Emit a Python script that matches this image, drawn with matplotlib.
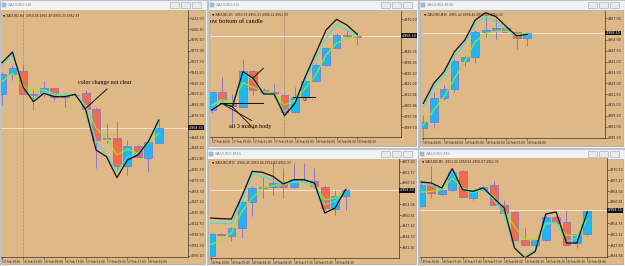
import matplotlib
matplotlib.use("Agg")
import matplotlib.pyplot as plt
from matplotlib.patches import Rectangle
import numpy as np

# ---------------- data ----------------
last_price = 4958.30

# XAUUSD,H4
h4_open = [5009, 5039, 5043.5, 5009, 5010, 5018.5, 5004, 5007, 5010, 4986.5, 4941, 4942.5, 4901.5, 4931.5, 4912.5, 4936]
h4_high = [5042.5, 5052.5, 5052, 5015, 5028.5, 5018.5, 5011, 5011, 5015, 4990, 4964, 4968.5, 4940, 4932.5, 4940, 4970]
h4_low = [4992, 5030, 5008.5, 4985, 5005, 5000, 4989, 5005, 4985, 4897.5, 4935, 4895, 4887.5, 4914, 4894, 4935]
h4_close = [5039, 5048.5, 5008.5, 5007.5, 5018.5, 5004, 5007.5, 5008, 4986, 4940, 4943.5, 4901.5, 4931.5, 4915, 4936.5, 4958.5]
h4_ma_black = [5056, 5072, 5020, 4997.5, 5010, 5005, 5005, 5008.5, 4986, 4925, 4915, 4883.5, 4910, 4917.5, 4937.5, 4970]
h4_ma_cyan = [5052.5, 5067.5, 5022.5, 5000, 5012.5, 5007.5, 5006.5, 5008.5, 4990, 4937.5, 4917.5, 4892.5, 4915, 4920, 4937.5, 4965]
h4_ma_lime = [5027.5, 5040, 5019, 5015, 5015, 5009, 5007.5, 5008.5, 4992.5, 4957.5, 4942.5, 4917.5, 4926.5, 4920, 4935, 4950]
h4_times = ["13 Feb 2026", "16 Feb 01:00", "16 Feb 09:00", "16 Feb 17:00",
            "17 Feb 01:00", "17 Feb 09:00", "17 Feb 17:00", "18 Feb 01:00"]

# XAUUSD,H1
h1_open = [4902.5, 4915.75, 4908, 4905, 4931.75, 4917.5, 4915.75, 4913.75, 4900.75, 4912.5, 4924.25, 4936.25, 4948.75, 4959, 4958]
h1_high = [4916.25, 4927, 4914.5, 4940.5, 4932.5, 4918.75, 4922, 4913.75, 4920, 4927, 4937.5, 4949.5, 4960, 4962.5, 4961.25]
h1_low = [4900, 4910, 4893, 4905, 4913.75, 4915, 4912.5, 4900, 4900, 4910, 4923.75, 4935.5, 4948, 4957.5, 4951.25]
h1_close = [4915.75, 4910, 4905.5, 4931.75, 4917.5, 4915.75, 4915, 4901.25, 4912.5, 4924.25, 4936.25, 4948.75, 4958.75, 4958.25, 4957.5]
h1_ma_black = [4902.5, 4907.5, 4905, 4931.25, 4926.25, 4914.5, 4914.5, 4898.25, 4907.5, 4927.5, 4945, 4962.5, 4970.5, 4966.25, 4959.25]
h1_ma_cyan = [4905.5, 4908.75, 4906.25, 4931.25, 4925, 4914.5, 4914.25, 4901.25, 4910, 4925, 4941.25, 4956.25, 4966.75, 4962.5, 4958.75]
h1_ma_lime = [4906.25, 4910.5, 4908, 4923, 4919.5, 4916.25, 4915, 4906.25, 4910, 4918.75, 4928.75, 4943.75, 4952.5, 4956.25, 4957.5]
h1_times = ["17 Feb 2026", "17 Feb 19:00", "17 Feb 21:00", "17 Feb 23:00",
            "18 Feb 02:00", "18 Feb 04:00", "18 Feb 06:00", "18 Feb 08:00"]

# XAUUSD,M30
m30_open = [4901.4, 4905, 4919, 4924.4, 4941.6, 4943.6, 4958.6, 4960, 4961, 4959, 4955.4]
m30_high = [4909, 4923, 4927, 4942.4, 4945, 4960, 4968, 4966.6, 4962, 4959.4, 4958.4]
m30_low = [4896, 4901, 4918, 4923, 4938.4, 4940.4, 4956, 4954.4, 4958, 4948.6, 4950.6]
m30_close = [4905, 4919, 4924.4, 4941.4, 4943.6, 4959, 4960, 4961.4, 4959, 4955.4, 4958]
m30_ma_black = [4916, 4928, 4935, 4947, 4954, 4966, 4970.4, 4968, 4962, 4956.4, 4957.4]
m30_ma_cyan = [4914, 4925.6, 4932.4, 4944, 4952, 4963.6, 4968, 4965, 4960.4, 4956, 4958]
m30_ma_lime = [4903, 4912, 4920, 4931, 4941, 4953, 4958, 4959.4, 4959, 4957.6, 4958]
m30_times = ["18 Feb 2026", "18 Feb 04:00", "18 Feb 05:00", "18 Feb 06:00", "18 Feb 07:00", "18 Feb 08:00"]

# XAUUSD,M15
m15_open = [4938.5, 4945.2, 4944.5, 4947, 4954.7, 4959, 4959.3, 4960.2, 4959.2, 4961.3, 4961, 4959.2, 4952.8, 4956.5]
m15_high = [4945.5, 4945.5, 4947.2, 4955.5, 4959.5, 4962.5, 4967, 4965, 4966.5, 4966.5, 4965, 4960, 4958.5, 4959]
m15_low = [4938, 4944.5, 4943, 4944, 4950.5, 4956, 4957, 4956, 4959, 4960.5, 4959, 4952.5, 4951, 4952.5]
m15_close = [4945.2, 4944.8, 4947, 4954.7, 4959, 4959.3, 4960.4, 4959.3, 4961.3, 4961, 4959.5, 4953, 4956.5, 4958.5]
m15_ma_black = [4950, 4949.8, 4949.7, 4956.5, 4964, 4963.7, 4962.5, 4960.2, 4961.5, 4961.5, 4960.5, 4951.5, 4953, 4958.5]
m15_ma_cyan = [4948.5, 4948.4, 4948.2, 4955, 4963, 4962.5, 4961.3, 4960, 4961, 4961, 4960, 4954, 4955, 4958]
m15_ma_lime = [4942, 4943.5, 4945.5, 4952, 4956, 4959, 4959.7, 4960, 4960.8, 4960.8, 4959.5, 4955.5, 4956, 4958]
m15_times = ["18 Feb 2026", "18 Feb 05:45", "18 Feb 06:15", "18 Feb 06:45",
             "18 Feb 07:15", "18 Feb 07:45", "18 Feb 08:15"]

# XAUUSD,M5
m5_open = [4959.5, 4966, 4963.3, 4964.5, 4970, 4962, 4964.3, 4965.8, 4959.8, 4957.7, 4949.5, 4948, 4949.3, 4956.2, 4954.8, 4948.5, 4951.3]
m5_high = [4967.5, 4971.5, 4966, 4971, 4970.5, 4964.5, 4965.5, 4967, 4961.5, 4958, 4953, 4950, 4957, 4956.5, 4958.5, 4951.5, 4958.5]
m5_low = [4959.2, 4962, 4963, 4964, 4962.2, 4961.5, 4964, 4960, 4957, 4949.2, 4947.8, 4947, 4949, 4954.5, 4947.8, 4947, 4950.5]
m5_close = [4966, 4963.5, 4964.5, 4969.7, 4962.3, 4964, 4965.2, 4960, 4957.5, 4949.5, 4948, 4949.5, 4956.2, 4954.5, 4948, 4951.3, 4958.2]
m5_ma_black = [4966.8, 4966.5, 4965, 4970.8, 4964.5, 4964, 4965, 4962, 4959, 4947, 4944, 4946, 4957.2, 4957.8, 4948.5, 4948.5, 4957.8]
m5_ma_cyan = [4966.7, 4965.8, 4964.5, 4970, 4964.5, 4963.5, 4964.8, 4961.5, 4957, 4947, 4944.2, 4946.5, 4954.5, 4954.5, 4948.8, 4950, 4958]
m5_ma_lime = [4963.8, 4964, 4964.5, 4968, 4965, 4964, 4964.5, 4962.5, 4958.5, 4953.5, 4949.5, 4949.5, 4954.2, 4954.5, 4950.8, 4950.8, 4955.5]
m5_times = ["18 Feb 2026", "18 Feb 07:30", "18 Feb 07:40", "18 Feb 07:50", "18 Feb 08:00",
            "18 Feb 08:10", "18 Feb 08:20", "18 Feb 08:30", "18 Feb 08:40"]

# ---------------- style ----------------
TAN = '#DFB888'
BULL = '#1DB7F2'
BEAR = '#F4694D'
WICK = '#7C6FD6'
W, H = 625, 266

fig = plt.figure(figsize=(6.25, 2.66), dpi=100)
fig.patch.set_facecolor('#D3D6DA')


def frac(x0, y0, x1, y1):
    # pixel box, top-left origin -> figure fraction
    return [x0 / W, 1 - y1 / H, (x1 - x0) / W, (y1 - y0) / H]


def fig_rect(x0, y0, x1, y1, z=-2, **kw):
    l, b, w, h = frac(x0, y0, x1, y1)
    fig.add_artist(Rectangle((l, b), w, h, transform=fig.transFigure, zorder=z, **kw))


def window(x0, y0, x1, y1, title):
    fig_rect(x0, y0, x1, y1, fc='#F1F2F4', ec='#AEB4BC', lw=0.5)
    fig_rect(x0 + 1, y0 + 10, x1 - 2, y1 - 2, z=-1, fc=TAN, ec='#9A9A9A', lw=0.4)
    fig_rect(x0 + 2, y0 + 2.5, x0 + 6, y0 + 6.5, fc='#9CC3E6', ec='#6E93B8', lw=0.3)
    fig.text((x0 + 8) / W, 1 - (y0 + 5) / H, title, fontsize=3, color='#8A9099', va='center')
    for k in range(3):
        bx = x1 - 37 + k * 11
        fig_rect(bx, y0 + 2, bx + 9, y0 + 8, fc='#E9EBEE', ec='#9DA3AA', lw=0.4)


def chart(box, o, hi, lo, c, mas, xlim, ylim, yticks, times, header, seps=()):
    ax = fig.add_axes(frac(*box))
    ax.set_facecolor(TAN)
    for i in range(len(o)):
        ax.vlines(i, lo[i], hi[i], color=WICK, lw=0.6, zorder=2)
        b0, b1 = min(o[i], c[i]), max(o[i], c[i])
        ax.add_patch(Rectangle((i - 0.38, b0), 0.76, b1 - b0,
                               fc=BULL if c[i] >= o[i] else BEAR, ec=WICK, lw=0.5, zorder=3))
    x = np.arange(len(o))
    ax.plot(x, mas[2], color='#9BE22C', lw=0.9, zorder=4)
    ax.plot(x, mas[1], color='#3FE3DA', lw=0.9, zorder=5)
    ax.plot(x, mas[0], color='#111111', lw=0.9, zorder=6)
    ax.axhline(last_price, color='#F3E6D4', lw=0.7, zorder=1)
    for s in seps:
        ax.axvline(s, color='#8A7A66', lw=0.5, ls=(0, (1, 1)), zorder=1)
    ax.set_xlim(*xlim)
    ax.set_ylim(*ylim)
    ax.yaxis.tick_right()
    # the price box hides the label under it, as in the terminal
    step = abs(yticks[1] - yticks[0])
    yticks = [v for v in yticks if abs(v - last_price) > 0.6 * step]
    ax.set_yticks(yticks)
    ax.set_yticklabels([f"{v:.2f}" for v in yticks])
    ax.set_xticks(np.arange(0, 2 * len(times), 2))
    ax.set_xticklabels(times)
    for t in ax.get_xticklabels():
        t.set_ha('left')
    ax.tick_params(axis='y', labelsize=2.3, length=1.2, width=0.4, pad=1, colors='#222222')
    ax.tick_params(axis='x', labelsize=2.1, length=1.2, width=0.4, pad=1, colors='#222222')
    for side in ('top', 'left'):
        ax.spines[side].set_visible(False)
    for side in ('right', 'bottom'):
        ax.spines[side].set_linewidth(0.5)
        ax.spines[side].set_color('#333333')
    ax.text(0.01, 0.985, header, transform=ax.transAxes, fontsize=2.2, va='top', color='#222222')
    ax.text(1.0, last_price, f" {last_price:.2f} ", transform=ax.get_yaxis_transform(),
            fontsize=2.3, color='white', va='center', ha='left', clip_on=False,
            bbox=dict(boxstyle='square,pad=0.1', fc='#111111', ec='none'))
    return ax


window(0, 0, 207, 266, "XAUUSD,H4")
window(208, 0, 418, 148, "XAUUSD,H1")
window(419, 0, 625, 148, "XAUUSD,M30")
window(207, 149, 418, 266, "XAUUSD,M15")
window(418, 149, 625, 266, "XAUUSD,M5")

serif = 'Liberation Serif'

ax1 = chart((1, 10, 188, 257), h4_open, h4_high, h4_low, h4_close,
            (h4_ma_black, h4_ma_cyan, h4_ma_lime), (-0.1, 17.8), (4764.5, 5135),
            np.arange(5122.5, 4764, -16.2), h4_times,
            "\u25bc XAUUSD,H4  4950.48 4960.48 4950.23 4952.33", seps=(2,))
ax1.text(7.25, 5026, "color change not clear", family=serif, fontsize=4.3, va='center', zorder=7)
ax1.plot([8.04, 10.05], [4988, 5016.5], color='#111111', lw=0.7, zorder=7)

ax2 = chart((210, 11, 401, 137), h1_open, h1_high, h1_low, h1_close,
            (h1_ma_black, h1_ma_cyan, h1_ma_lime), (-0.16, 18.2), (4882.25, 4976.75),
            np.arange(4970.5, 4882, -8.08), h1_times,
            "\u25bc XAUUSD,H1  4953.33 4955.21 4938.22 4952.33", seps=(7,))
ax2.text(-0.75, 4969.25, "show bottom of candle", family=serif, fontsize=4.6, va='center',
         clip_on=True, zorder=7)
ax2.text(1.7, 4890.5, "all 3 mas in body", family=serif, fontsize=4.4, va='center', zorder=7)
ax2.plot([0.8, 4.97], [4908, 4908], color='#111111', lw=0.7, zorder=7)
ax2.plot([0.96, 3.85], [4907.5, 4894.5], color='#111111', lw=0.6, zorder=7)
ax2.plot([1.92, 4.01], [4905.5, 4888.75], color='#111111', lw=0.6, zorder=7)
ax2.plot([3.94, 4.97], [4926.25, 4933.75], color='#111111', lw=0.7, zorder=7)
ax2.plot([7.85, 9.94], [4912.5, 4912.5], color='#111111', lw=0.7, zorder=7)
ax2.text(8.97, 4910.5, "U", family=serif, fontsize=4, ha='center', va='center', zorder=7)

chart((422, 11, 605, 138), m30_open, m30_high, m30_low, m30_close,
      (m30_ma_black, m30_ma_cyan, m30_ma_lime), (-0.13, 17.5), (4895.2, 4971.4),
      np.arange(4967, 4895, -6.5), m30_times,
      "\u25bc XAUUSD,M30  4955.42 4958.44 4950.60 4952.33")

chart((210, 159, 399, 258), m15_open, m15_high, m15_low, m15_close,
      (m15_ma_black, m15_ma_cyan, m15_ma_lime), (-0.07, 18.16), (4938, 4967.7),
      np.arange(4967, 4938, -3.23), m15_times,
      "\u25bc XAUUSD,M15  4956.45 4959.04 4952.43 4952.33")

chart((420, 158, 607, 257), m5_open, m5_high, m5_low, m5_close,
      (m5_ma_black, m5_ma_cyan, m5_ma_lime), (-0.1, 17.9), (4944.3, 4974),
      np.arange(4970.5, 4944, -3.23), m5_times,
      "\u25bc XAUUSD,M5  4951.32 4958.54 4950.87 4952.33")

fig.savefig("out.png", dpi=100, facecolor=fig.get_facecolor())
